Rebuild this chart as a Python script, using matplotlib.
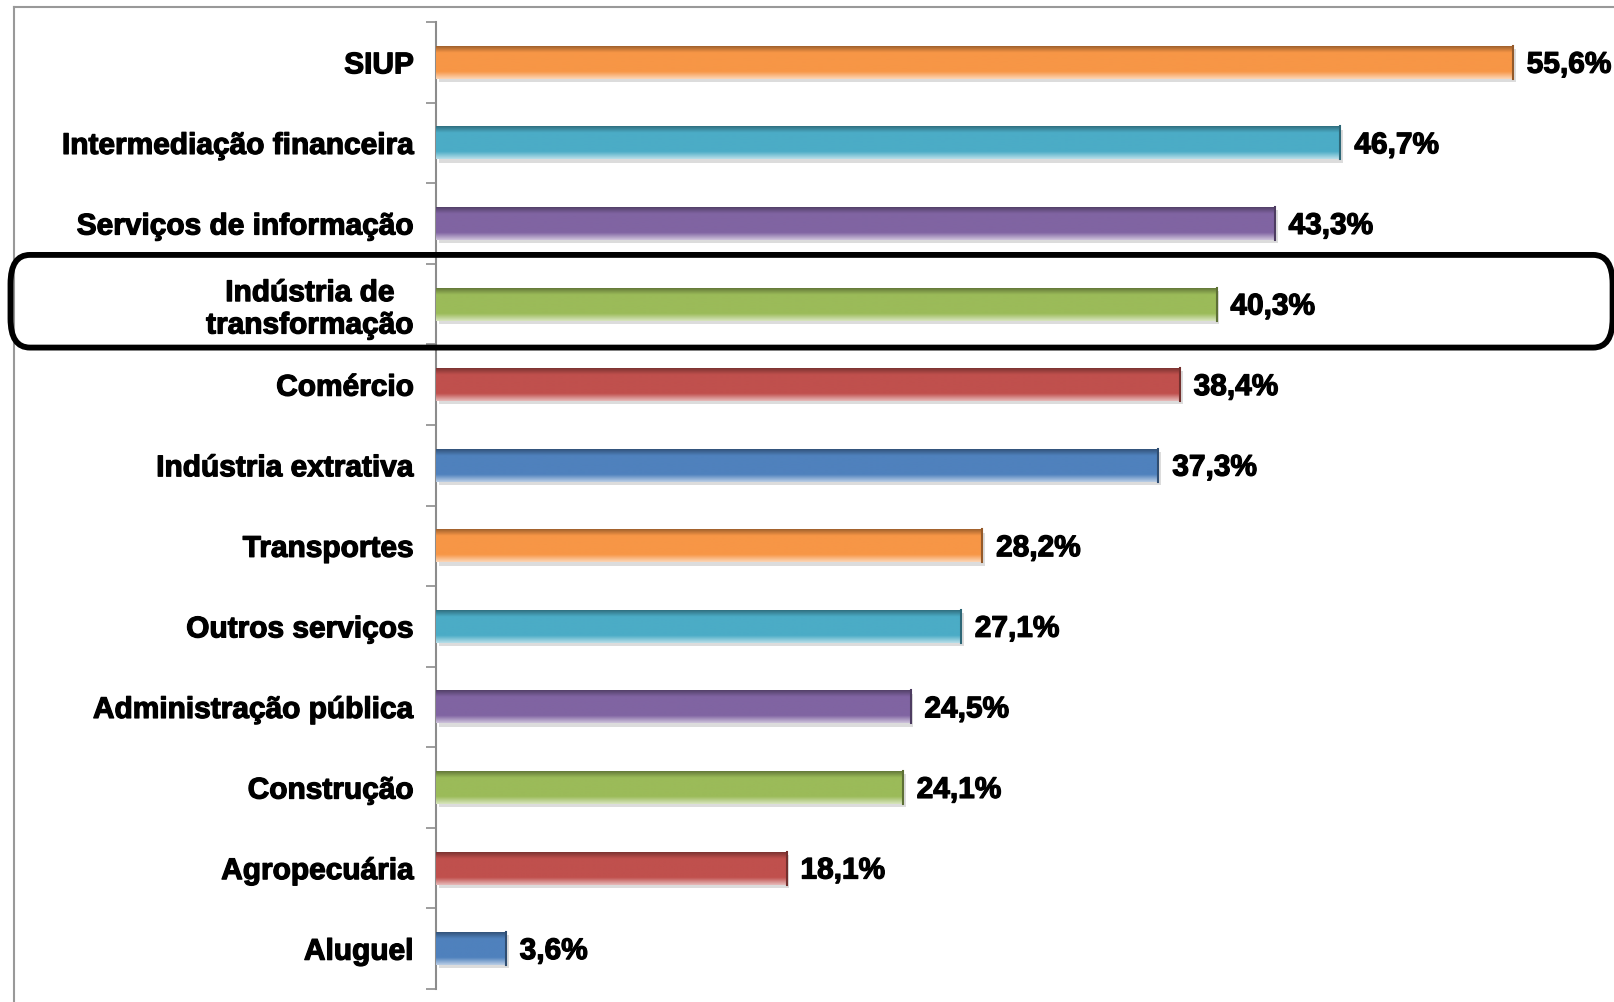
import numpy as np
import matplotlib.pyplot as plt
import matplotlib.colors as mcolors
import matplotlib.patheffects as pe
from matplotlib.patches import FancyBboxPatch
from matplotlib.lines import Line2D
from matplotlib.transforms import blended_transform_factory

plt.rcParams['font.family'] = ['Liberation Sans', 'DejaVu Sans']

# data, bottom to top
sectors = ['Aluguel', 'Agropecuária', 'Construção', 'Administração pública',
           'Outros serviços', 'Transportes', 'Indústria extrativa', 'Comércio',
           'Indústria de\ntransformação', 'Serviços de informação',
           'Intermediação financeira', 'SIUP']
values = [3.6, 18.1, 24.1, 24.5, 27.1, 28.2, 37.3, 38.4, 40.3, 43.3, 46.7, 55.6]
value_labels = ['3,6%', '18,1%', '24,1%', '24,5%', '27,1%', '28,2%', '37,3%',
                '38,4%', '40,3%', '43,3%', '46,7%', '55,6%']
highlight = 'Indústria de\ntransformação'

palette = ['#4F81BD', '#C0504D', '#9BBB59', '#8064A2', '#4BACC6', '#F79646']
colors = [palette[i % len(palette)] for i in range(len(sectors))]

heavy = [pe.withStroke(linewidth=0.9, foreground='black')]

fig = plt.figure(figsize=(16.15, 10.02), dpi=100)
ax = fig.add_axes([0.270, 0.013, 0.7195, 0.965])

y = np.arange(len(sectors))
bars = ax.barh(y, values, height=0.41, color=colors, zorder=2)

ax.set_xlim(0, 60)
ax.set_ylim(-0.5, len(sectors) - 0.5)

# bevel look: gradient image clipped to each bar
for bar, c in zip(bars, colors):
    base = np.array(mcolors.to_rgb(c))
    light = base + (1 - base) * 0.6
    dark = base * 0.6
    t = np.linspace(0, 1, 64)
    grad = np.empty((64, 1, 3))
    for i, v in enumerate(t):
        if v < 0.22:
            col = light + (base - light) * (v / 0.22)
        elif v < 0.78:
            col = base
        else:
            col = base + (dark - base) * ((v - 0.78) / 0.22)
        grad[i, 0] = col
    x0, y0 = bar.get_x(), bar.get_y()
    w, h = bar.get_width(), bar.get_height()
    # soft shadow
    ax.barh(y0 + h / 2 - 0.04, w, height=h, left=x0 + 0.15,
            color='#bbbbbb', alpha=0.5, zorder=1)
    im = ax.imshow(grad, extent=(x0, x0 + w, y0 + h, y0), aspect='auto',
                   interpolation='bilinear', zorder=3)
    im.set_clip_path(bar)
    ax.plot([x0 + w, x0 + w], [y0, y0 + h], color=dark, lw=1.5, zorder=4)

for yi, v, lab in zip(y, values, value_labels):
    ax.annotate(lab, (v, yi - 0.03), xytext=(10, 0), textcoords='offset points',
                va='center', ha='left', fontsize=21.5, fontweight='bold',
                path_effects=heavy)

ax.set_yticks(y)
ax.set_yticklabels(sectors, fontsize=21.5, fontweight='bold', multialignment='center')
for t in ax.get_yticklabels():
    t.set_path_effects(heavy)
ax.tick_params(axis='y', which='major', length=0, pad=16)
ax.set_yticks(np.arange(-0.5, len(sectors), 1), minor=True)
ax.tick_params(axis='y', which='minor', length=7, width=1.2, color='#8c8c8c')
ax.set_xticks([])

for s in ['top', 'right', 'bottom']:
    ax.spines[s].set_visible(False)
ax.spines['left'].set_color('#8c8c8c')
ax.spines['left'].set_linewidth(1.5)

# highlight box around one row
hi = sectors.index(highlight)
trans = blended_transform_factory(fig.transFigure, ax.transData)
box = FancyBboxPatch((0.0065, hi - 0.54), 0.992, 1.15,
                     boxstyle='round,pad=0,rounding_size=0.012',
                     transform=trans, fill=False, lw=4.2, ec='black',
                     clip_on=False, zorder=5, mutation_aspect=30)
fig.add_artist(box)

# outer frame lines
fig.add_artist(Line2D([0.0087, 0.0087], [0, 0.993], color='#999999', lw=1.5))
fig.add_artist(Line2D([0.0087, 1.0], [0.993, 0.993], color='#999999', lw=1.5))

fig.savefig('out.png', dpi=100)
